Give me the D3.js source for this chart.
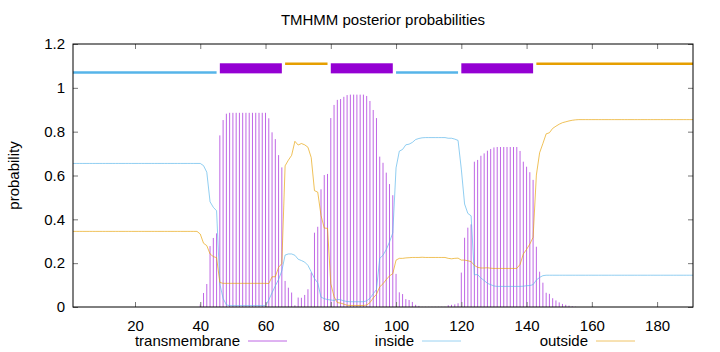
<!DOCTYPE html>
<html>
<head>
<meta charset="utf-8">
<script src="https://cdn.jsdelivr.net/npm/d3@7"></script>
<style>
  body { margin: 0; background: #fff; }
  svg { display: block; font-family: "Liberation Sans", Arial, sans-serif; }
</style>
</head>
<body>
<svg id="chart" width="720" height="352"></svg>
<script>
// posterior probabilities per residue (1..191)
const tm = [
  0,0,0,0,0,0,0,0,0,0,
  0,0,0,0,0,0,0,0,0,0,
  0,0,0,0,0,0,0,0,0,0,
  0,0,0,0,0,0,0,0,0,0.012,
  0.064,0.105,0.278,0.315,0.336,0.783,0.853,0.882,0.886,0.886,
  0.886,0.886,0.886,0.886,0.886,0.886,0.886,0.886,0.886,0.886,
  0.861,0.797,0.766,0.693,0.637,0.119,0.088,0.066,0.008,0.043,
  0.042,0.055,0.081,0.157,0.339,0.366,0.537,0.602,0.607,0.862,
  0.922,0.945,0.949,0.959,0.967,0.969,0.969,0.969,0.969,0.969,
  0.963,0.94,0.899,0.862,0.686,0.658,0.613,0.561,0.51,0.151,
  0.067,0.059,0.036,0.032,0.023,0.01,0.005,0.001,0.001,0.001,
  0.001,0.001,0.001,0.001,0.001,0.008,0.01,0.012,0.017,0.157,
  0.316,0.362,0.377,0.663,0.671,0.69,0.701,0.713,0.721,0.728,
  0.73,0.73,0.73,0.73,0.73,0.73,0.73,0.712,0.663,0.64,
  0.615,0.58,0.275,0.161,0.111,0.065,0.06,0.04,0.03,0.021,
  0.014,0.01,0.006,0.003,0.001,0,0,0,0,0,
  0,0,0,0,0,0,0,0,0,0,
  0,0,0,0,0,0,0,0,0,0,
  0,0,0,0,0,0,0,0,0,0,
  0
];
const inside = [
  0.655,0.655,0.655,0.655,0.655,0.655,0.655,0.655,0.655,0.655,
  0.655,0.655,0.655,0.655,0.655,0.655,0.655,0.655,0.655,0.655,
  0.655,0.655,0.655,0.655,0.655,0.655,0.655,0.655,0.655,0.655,
  0.655,0.655,0.655,0.655,0.655,0.655,0.655,0.655,0.655,0.655,
  0.645,0.615,0.48,0.455,0.439,0.105,0.039,0.01,0.006,0.006,
  0.006,0.006,0.006,0.006,0.006,0.006,0.006,0.006,0.006,0.006,
  0.032,0.065,0.096,0.126,0.165,0.237,0.242,0.242,0.236,0.218,
  0.212,0.205,0.19,0.161,0.13,0.11,0.045,0.038,0.034,0.032,
  0.03,0.035,0.033,0.028,0.025,0.024,0.024,0.024,0.024,0.024,
  0.028,0.04,0.06,0.08,0.222,0.236,0.262,0.297,0.338,0.635,
  0.711,0.719,0.74,0.743,0.751,0.764,0.769,0.772,0.773,0.773,
  0.773,0.773,0.773,0.773,0.773,0.77,0.77,0.766,0.76,0.629,
  0.47,0.427,0.416,0.147,0.148,0.132,0.121,0.108,0.102,0.096,
  0.094,0.094,0.094,0.094,0.094,0.094,0.094,0.094,0.095,0.097,
  0.098,0.102,0.123,0.135,0.143,0.145,0.145,0.145,0.145,0.145,
  0.145,0.145,0.145,0.145,0.145,0.145,0.145,0.145,0.145,0.145,
  0.145,0.145,0.145,0.145,0.145,0.145,0.145,0.145,0.145,0.145,
  0.145,0.145,0.145,0.145,0.145,0.145,0.145,0.145,0.145,0.145,
  0.145,0.145,0.145,0.145,0.145,0.145,0.145,0.145,0.145,0.145,
  0.145
];
const outside = [
  0.345,0.345,0.345,0.345,0.345,0.345,0.345,0.345,0.345,0.345,
  0.345,0.345,0.345,0.345,0.345,0.345,0.345,0.345,0.345,0.345,
  0.345,0.345,0.345,0.345,0.345,0.345,0.345,0.345,0.345,0.345,
  0.345,0.345,0.345,0.345,0.345,0.345,0.345,0.345,0.345,0.333,
  0.291,0.28,0.242,0.23,0.225,0.112,0.108,0.108,0.108,0.108,
  0.108,0.108,0.108,0.108,0.108,0.108,0.108,0.108,0.108,0.108,
  0.107,0.138,0.138,0.181,0.198,0.644,0.67,0.692,0.756,0.739,
  0.746,0.74,0.729,0.682,0.531,0.524,0.418,0.36,0.359,0.106,
  0.048,0.02,0.018,0.013,0.008,0.007,0.007,0.007,0.007,0.007,
  0.009,0.02,0.041,0.058,0.092,0.106,0.125,0.142,0.152,0.214,
  0.222,0.222,0.224,0.225,0.226,0.226,0.226,0.227,0.226,0.226,
  0.226,0.226,0.226,0.226,0.226,0.222,0.22,0.222,0.223,0.214,
  0.214,0.211,0.207,0.19,0.181,0.178,0.178,0.179,0.177,0.176,
  0.176,0.176,0.176,0.176,0.176,0.176,0.176,0.194,0.242,0.263,
  0.287,0.318,0.602,0.704,0.746,0.79,0.795,0.815,0.825,0.834,
  0.841,0.845,0.849,0.852,0.854,0.855,0.855,0.855,0.855,0.855,
  0.855,0.855,0.855,0.855,0.855,0.855,0.855,0.855,0.855,0.855,
  0.855,0.855,0.855,0.855,0.855,0.855,0.855,0.855,0.855,0.855,
  0.855,0.855,0.855,0.855,0.855,0.855,0.855,0.855,0.855,0.855,
  0.855
];

// predicted topology drawn above the curves
const segStart = [1, 46, 66, 80, 100, 120, 143];
const segEnd   = [45, 65, 79, 99, 119, 142, 191];
const segType  = ["inside", "transmembrane", "outside", "transmembrane", "inside", "transmembrane", "outside"];

const xTicks = [20, 40, 60, 80, 100, 120, 140, 160, 180];
const yTicks = [0, 0.2, 0.4, 0.6, 0.8, 1, 1.2];
const legendNames = ["transmembrane", "inside", "outside"];

const color = {transmembrane: "#9400d3", inside: "#56b4e9", outside: "#e69f00"};
const levels = {inside: 1.07, transmembrane: 1.09, outside: 1.11};

const pLeft = 73, pRight = 693, pTop = 44, pBottom = 307;
const pos = d3.range(1, tm.length + 1);

const x = d3.scaleLinear().domain([1, 191]).range([pLeft, pRight]);
const y = d3.scaleLinear().domain([0, 1.2]).range([pBottom, pTop]);

const svg = d3.select("#chart");

svg.append("defs").append("clipPath").attr("id", "plot")
  .append("rect")
  .attr("x", pLeft).attr("y", pTop)
  .attr("width", pRight - pLeft).attr("height", pBottom - pTop);

const plot = svg.append("g").attr("clip-path", "url(#plot)");

// transmembrane impulses
plot.append("g")
  .attr("stroke", color.transmembrane)
  .attr("stroke-opacity", 0.6)
  .attr("stroke-width", 1)
  .selectAll("line")
  .data(pos.filter(p => tm[p - 1] > 0))
  .join("line")
  .attr("x1", p => x(p)).attr("x2", p => x(p))
  .attr("y1", y(0))
  .attr("y2", p => y(tm[p - 1]));

// inside / outside curves
const line = d3.line().x((d, i) => x(i + 1)).y(d => y(d));
plot.append("path").datum(inside)
  .attr("fill", "none").attr("stroke", color.inside)
  .attr("stroke-opacity", 0.65).attr("stroke-width", 1)
  .attr("d", line);
plot.append("path").datum(outside)
  .attr("fill", "none").attr("stroke", color.outside)
  .attr("stroke-opacity", 0.65).attr("stroke-width", 1)
  .attr("d", line);

// topology bars
const segs = d3.range(segStart.length);
plot.append("g").selectAll("line")
  .data(segs.filter(i => segType[i] !== "transmembrane"))
  .join("line")
  .attr("x1", i => x(segStart[i])).attr("x2", i => x(segEnd[i]))
  .attr("y1", i => y(levels[segType[i]])).attr("y2", i => y(levels[segType[i]]))
  .attr("stroke", i => color[segType[i]])
  .attr("stroke-width", 2.6);
plot.append("g").selectAll("rect")
  .data(segs.filter(i => segType[i] === "transmembrane"))
  .join("rect")
  .attr("x", i => x(segStart[i]))
  .attr("width", i => x(segEnd[i]) - x(segStart[i]))
  .attr("y", y(1.112))
  .attr("height", y(1.066) - y(1.112))
  .attr("fill", color.transmembrane);

// axes: inward ticks, mirrored
const font = 15;
const ax = svg.append("g");

const gx = ax.append("g").attr("transform", `translate(0,${pBottom})`)
  .call(d3.axisBottom(x).tickValues(xTicks).tickSize(-5).tickPadding(13));
const gxTop = ax.append("g").attr("transform", `translate(0,${pTop})`)
  .call(d3.axisTop(x).tickValues(xTicks).tickSize(-5).tickFormat(""));
const gy = ax.append("g").attr("transform", `translate(${pLeft},0)`)
  .call(d3.axisLeft(y).tickValues(yTicks).tickSize(-5).tickPadding(8).tickFormat(d3.format("~g")));
const gyRight = ax.append("g").attr("transform", `translate(${pRight},0)`)
  .call(d3.axisRight(y).tickValues(yTicks).tickSize(-5).tickFormat(""));

[gx, gxTop, gy, gyRight].forEach(g => {
  g.attr("font-size", font).attr("font-family", "Liberation Sans, Arial, sans-serif");
  g.select(".domain").remove();
  g.selectAll(".tick line").attr("stroke", "#777");
  g.selectAll("text").attr("fill", "#000");
});

// border
svg.append("rect")
  .attr("x", pLeft).attr("y", pTop)
  .attr("width", pRight - pLeft).attr("height", pBottom - pTop)
  .attr("fill", "none").attr("stroke", "#000").attr("stroke-width", 1);

// title and y label
svg.append("text")
  .attr("x", (pLeft + pRight) / 2).attr("y", 25)
  .attr("text-anchor", "middle").attr("font-size", font)
  .text("TMHMM posterior probabilities");

svg.append("text")
  .attr("transform", `translate(19,${(pTop + pBottom) / 2}) rotate(-90)`)
  .attr("text-anchor", "middle").attr("font-size", font)
  .text("probability");

// legend
const legend = svg.append("g").attr("font-size", font)
  .selectAll("g").data(legendNames).join("g")
  .attr("transform", (d, i) => `translate(${240 + i * 174},346)`);
legend.append("text")
  .attr("text-anchor", "end")
  .text(d => d);
legend.append("line")
  .attr("x1", 8).attr("x2", 47)
  .attr("y1", -5).attr("y2", -5)
  .attr("stroke", d => color[d])
  .attr("stroke-opacity", 0.6)
  .attr("stroke-width", 1);
</script>
</body>
</html>
